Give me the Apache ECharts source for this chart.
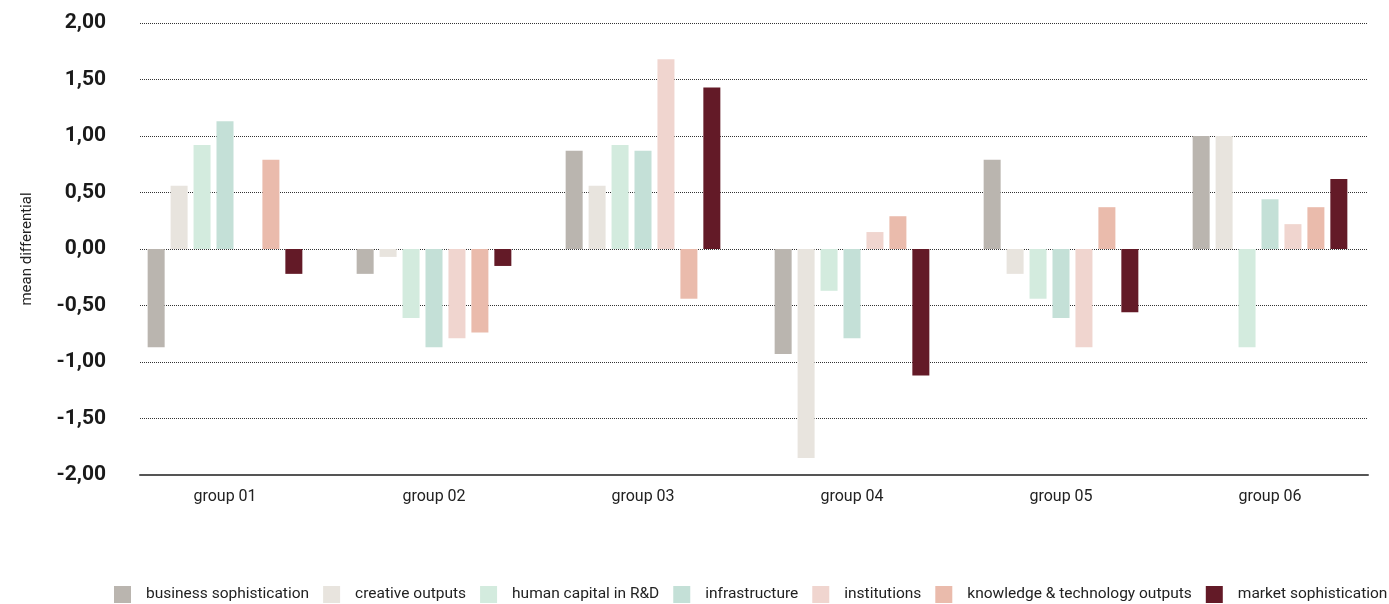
<!DOCTYPE html>
<html>
<head>
<meta charset="utf-8">
<script src="https://cdn.jsdelivr.net/npm/echarts@6/dist/echarts.min.js"></script>
<style>
  html, body { margin: 0; padding: 0; background: #fff; }
  #chart { width: 1389px; height: 604px; }
</style>
</head>
<body>
<div id="chart"></div>
<script>
// Groups along the x axis
const groups = ['group 01', 'group 02', 'group 03', 'group 04', 'group 05', 'group 06'];

// Mean differential per pillar, one value per group
const businessSophistication = [-0.87, -0.22, 0.87, -0.93, 0.79, 1.00];
const creativeOutputs        = [0.56, -0.07, 0.56, -1.85, -0.22, 1.00];
const humanCapitalRD         = [0.92, -0.61, 0.92, -0.37, -0.44, -0.87];
const infrastructure         = [1.13, -0.87, 0.87, -0.79, -0.61, 0.44];
const institutions           = [0.00, -0.79, 1.68, 0.15, -0.87, 0.22];
const knowledgeTechOutputs   = [0.79, -0.74, -0.44, 0.29, 0.37, 0.37];
const marketSophistication   = [-0.22, -0.15, 1.43, -1.12, -0.56, 0.62];

const seriesNames = [
  'business sophistication', 'creative outputs', 'human capital in R&D',
  'infrastructure', 'institutions', 'knowledge & technology outputs', 'market sophistication'
];
const seriesData = [
  businessSophistication, creativeOutputs, humanCapitalRD,
  infrastructure, institutions, knowledgeTechOutputs, marketSophistication
];
const colors = ['#bab5af', '#e8e4de', '#d3ebde', '#c4e0d7', '#f0d5cf', '#eabbac', '#631a27'];

const yMin = -2, yMax = 2, yStep = 0.5;
const font = 'Roboto, "Noto Sans", sans-serif';

const chart = echarts.init(document.getElementById('chart'), null, { renderer: 'canvas' });

chart.setOption({
  animation: false,
  color: colors,
  grid: [
    // frame: gridlines, y labels, base line
    { left: 140, right: 21, top: 23, bottom: 129 },
    // bars and group labels
    { left: 120.5, right: 14.5, top: 23, bottom: 129 }
  ],
  xAxis: [
    {
      gridIndex: 0, type: 'value', min: 0, max: 1,
      axisLine: { show: true, onZero: false, lineStyle: { color: '#555', width: 2 } },
      axisTick: { show: false }, axisLabel: { show: false }, splitLine: { show: false }
    },
    {
      gridIndex: 1, type: 'category', data: groups,
      axisLine: { show: false }, axisTick: { show: false }, splitLine: { show: false },
      axisLabel: { color: '#222', fontSize: 16, fontFamily: font, margin: 14 }
    }
  ],
  yAxis: [
    {
      gridIndex: 0, type: 'value', min: yMin, max: yMax, interval: yStep,
      name: 'mean differential', nameLocation: 'middle', nameGap: 105, nameRotate: 90,
      nameTextStyle: { color: '#222', fontSize: 15, fontFamily: font },
      axisLine: { show: false }, axisTick: { show: false },
      axisLabel: {
        color: '#1a1a1a', fontSize: 21, fontWeight: 'bold', fontFamily: font, margin: 34,
        formatter: v => v.toFixed(2).replace('.', ',')
      },
      splitLine: { show: true, lineStyle: { color: '#333', width: 1, type: 'dotted' } }
    },
    {
      gridIndex: 1, type: 'value', min: yMin, max: yMax, interval: yStep, show: false,
      splitLine: { show: false }
    }
  ],
  legend: {
    left: 114, top: 586, padding: 0,
    icon: 'rect', itemWidth: 17, itemHeight: 17, itemGap: 14,
    textStyle: { color: '#222', fontSize: 15.5, fontFamily: font, padding: [0, 0, 0, 10] },
    data: seriesNames
  },
  series: seriesNames.map((name, i) => ({
    name,
    type: 'bar',
    xAxisIndex: 1,
    yAxisIndex: 1,
    data: seriesData[i],
    barWidth: 17,
    barGap: '35%',
    itemStyle: { color: colors[i] }
  }))
});
</script>
</body>
</html>
